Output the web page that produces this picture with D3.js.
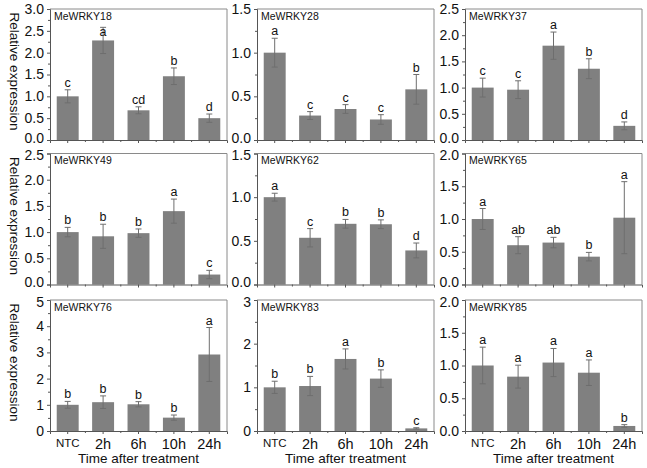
<!DOCTYPE html>
<html><head><meta charset="utf-8">
<script src="https://cdn.jsdelivr.net/npm/d3@7"></script>
<style>
html,body{margin:0;padding:0;background:#fff;}
svg text{font-family:Arial,"Liberation Sans",sans-serif;}
</style>
</head><body>
<svg id="chart" width="647" height="468"></svg>
<script>
// ---- data ----
const categories = ["NTC", "2h", "6h", "10h", "24h"];
const genes = ["MeWRKY18", "MeWRKY28", "MeWRKY37", "MeWRKY49", "MeWRKY62", "MeWRKY65", "MeWRKY76", "MeWRKY83", "MeWRKY85"];
const yMaxValues = [3.0, 1.5, 2.5, 2.5, 1.5, 2.0, 5, 3, 2.0];
const yTickSteps = [0.5, 0.5, 0.5, 0.5, 0.5, 0.5, 1, 1, 0.5];
const meanValues = [
  [1.00, 2.28, 0.68, 1.46, 0.50],
  [1.00, 0.28, 0.355, 0.235, 0.58],
  [1.00, 0.96, 1.80, 1.36, 0.27],
  [1.00, 0.92, 0.98, 1.40, 0.19],
  [1.00, 0.535, 0.695, 0.69, 0.39],
  [1.00, 0.60, 0.64, 0.425, 1.02],
  [1.00, 1.10, 1.02, 0.51, 2.92],
  [1.00, 1.03, 1.65, 1.20, 0.06],
  [1.00, 0.83, 1.045, 0.89, 0.077]
];
const errorValues = [
  [0.15, 0.30, 0.08, 0.19, 0.095],
  [0.165, 0.045, 0.05, 0.055, 0.17],
  [0.18, 0.17, 0.26, 0.19, 0.075],
  [0.09, 0.23, 0.08, 0.23, 0.08],
  [0.045, 0.105, 0.05, 0.05, 0.085],
  [0.16, 0.13, 0.08, 0.065, 0.55],
  [0.13, 0.24, 0.10, 0.10, 1.03],
  [0.14, 0.22, 0.23, 0.20, 0.015],
  [0.28, 0.175, 0.215, 0.195, 0.02]
];
const sigLetters = [
  ["c", "a", "cd", "b", "d"],
  ["a", "c", "c", "c", "b"],
  ["c", "c", "a", "b", "d"],
  ["b", "b", "b", "a", "c"],
  ["a", "c", "b", "b", "d"],
  ["a", "ab", "ab", "b", "a"],
  ["b", "b", "b", "b", "a"],
  ["b", "b", "a", "b", "c"],
  ["a", "a", "a", "a", "b"]
];
const yAxisTitle = "Relative expression";
const xAxisTitle = "Time after treatment";

// ---- layout ----
const colX = [50, 257, 465];
const panelW = 177;
const rowY = [9, 153.5, 300];
const panelH = 131;

const svg = d3.select("#chart");
const axisDark = "#555";
const frameCol = "#8a8a8a";

genes.forEach((gene, gi) => {
  const col = gi % 3, row = Math.floor(gi / 3);
  const g = svg.append("g").attr("transform", `translate(${colX[col]},${rowY[row]})`);
  const x = d3.scaleBand().domain(categories).range([0, panelW]).paddingInner(0.38).paddingOuter(0.19);
  const y = d3.scaleLinear().domain([0, yMaxValues[gi]]).range([panelH, 0]);
  const step = yTickSteps[gi];
  const nT = Math.round(yMaxValues[gi] / step);
  const majors = d3.range(nT + 1).map(i => i * step);
  const minors = d3.range(nT).map(i => (i + 0.5) * step);
  const fmt = step < 1 ? d3.format(".1f") : d3.format("d");

  // frame (top/right)
  g.append("line").attr("x1", 0).attr("x2", panelW).attr("y1", 0).attr("y2", 0).attr("stroke", frameCol).attr("stroke-width", 1);
  g.append("line").attr("x1", panelW).attr("x2", panelW).attr("y1", 0).attr("y2", panelH).attr("stroke", frameCol).attr("stroke-width", 1);

  // bars
  g.selectAll("rect.bar").data(categories).join("rect")
    .attr("class", "bar")
    .attr("x", d => x(d))
    .attr("width", x.bandwidth())
    .attr("y", (d, i) => y(meanValues[gi][i]))
    .attr("height", (d, i) => panelH - y(meanValues[gi][i]))
    .attr("fill", "#808080");

  // error bars
  const cap = 3;
  categories.forEach((c, i) => {
    const cx = x(c) + x.bandwidth() / 2;
    const m = meanValues[gi][i], e = errorValues[gi][i];
    const yt = y(m + e), yb = y(Math.max(0, m - e));
    const eg = g.append("g").attr("stroke", "#6e6e6e").attr("stroke-width", 1);
    eg.append("line").attr("x1", cx).attr("x2", cx).attr("y1", yt).attr("y2", yb);
    eg.append("line").attr("x1", cx - cap).attr("x2", cx + cap).attr("y1", yt).attr("y2", yt);
    eg.append("line").attr("x1", cx - cap).attr("x2", cx + cap).attr("y1", yb).attr("y2", yb);
    // letter above whisker; if it would hit the panel label, tuck it just below the cap
    let ly = yt - 3;
    if (ly < 24 && cx < 66) ly = yt + 9;
    g.append("text").attr("x", cx).attr("y", ly)
      .attr("text-anchor", "middle").attr("font-size", 12.5).attr("fill", "#111")
      .text(sigLetters[gi][i]);
  });

  // y axis
  const yAxis = d3.axisLeft(y).tickValues(majors).tickFormat(fmt).tickSize(3).tickPadding(3);
  const ya = g.append("g").call(yAxis);
  ya.select(".domain").attr("stroke", axisDark);
  ya.selectAll(".tick line").attr("stroke", axisDark);
  ya.selectAll(".tick text").attr("font-size", 14).attr("fill", "#111").style("font-family", "Arial, 'Liberation Sans', sans-serif")
    .attr("y", d => {
      // keep stacked panels' end labels from touching
      if (d === 0 && row < 2) return -2;
      if (Math.abs(d - yMaxValues[gi]) < 1e-9 && row > 0) return 2;
      return 0;
    });
  const yMinor = g.append("g").call(d3.axisLeft(y).tickValues(minors).tickFormat("").tickSize(2));
  yMinor.select(".domain").remove();
  yMinor.selectAll(".tick line").attr("stroke", axisDark);

  // x axis
  const xAxis = d3.axisBottom(x).tickSize(3).tickPadding(5).tickFormat(row === 2 ? (d => d) : "");
  const xa = g.append("g").attr("transform", `translate(0,${panelH})`).call(xAxis);
  xa.select(".domain").attr("stroke", axisDark);
  xa.selectAll(".tick line").attr("stroke", axisDark);
  xa.selectAll(".tick text").attr("fill", "#111").style("font-family", "Arial, 'Liberation Sans', sans-serif")
    .attr("font-size", d => d === "NTC" ? 11.5 : 14.5);
  // minor x ticks between bars
  const bounds = d3.range(1, categories.length).map(i => i * panelW / categories.length);
  g.selectAll("line.xminor").data(bounds).join("line").attr("class", "xminor")
    .attr("x1", d => d).attr("x2", d => d).attr("y1", panelH).attr("y2", panelH + 2)
    .attr("stroke", axisDark);

  // panel label
  g.append("text").attr("x", 4).attr("y", 10.5).attr("font-size", 10.5).attr("fill", "#111").text(gene);

  // y axis title
  if (col === 0) {
    g.append("text").attr("transform", `translate(${-40},${panelH / 2 - 3}) rotate(90)`)
      .attr("text-anchor", "middle").attr("font-size", 13.5).attr("fill", "#111").text(yAxisTitle);
  }
  if (row === 2) {
    g.append("text").attr("x", panelW / 2).attr("y", panelH + 32)
      .attr("text-anchor", "middle").attr("font-size", 13.5).attr("fill", "#111").text(xAxisTitle);
  }
});
</script>
</body></html>
